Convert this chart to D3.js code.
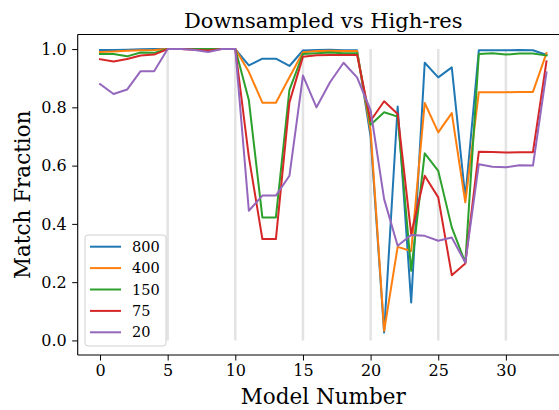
<!DOCTYPE html>
<html>
<head>
<meta charset="utf-8">
<script src="https://cdn.jsdelivr.net/npm/d3@7"></script>
<style>
  body { margin: 0; background: #fff; }
  text { font-family: "DejaVu Serif", serif; fill: #000; }
</style>
</head>
<body>
<div id="chart"></div>
<script>
// data
var models = d3.range(0, 34);
var seriesNames = ["800", "400", "150", "75", "20"];
var colors = ["#1f77b4", "#ff7f0e", "#2ca02c", "#d62728", "#9467bd"];
var dividers = [5, 10, 15, 20, 25, 30];
var xTicks = [0, 5, 10, 15, 20, 25, 30];
var yTicks = [0.0, 0.2, 0.4, 0.6, 0.8, 1.0];

var res800 = [0.997, 0.997, 0.998, 0.999, 1.0, 1.0, 1.0, 1.0, 1.0, 1.0, 1.0,
  0.944, 0.967, 0.967, 0.942, 0.995, 0.997, 0.998, 0.996, 0.996,
  0.70, 0.027, 0.803, 0.13, 0.953, 0.903, 0.937, 0.49,
  0.996, 0.996, 0.996, 0.997, 0.996, 0.98];
var res400 = [0.99, 0.992, 0.994, 0.996, 0.997, 1.0, 1.0, 1.0, 1.0, 1.0, 1.0,
  0.922, 0.816, 0.816, 0.903, 0.989, 0.993, 0.994, 0.993, 0.993,
  0.72, 0.033, 0.321, 0.307, 0.815, 0.714, 0.78, 0.474,
  0.852, 0.852, 0.852, 0.853, 0.853, 0.986];
var res150 = [0.983, 0.983, 0.975, 0.988, 0.987, 1.0, 1.0, 1.0, 1.0, 1.0, 1.0,
  0.825, 0.422, 0.422, 0.86, 0.983, 0.986, 0.988, 0.986, 0.986,
  0.74, 0.783, 0.768, 0.239, 0.642, 0.582, 0.388, 0.267,
  0.983, 0.986, 0.981, 0.985, 0.985, 0.978];
var res75 = [0.965, 0.957, 0.966, 0.978, 0.981, 1.0, 1.0, 0.998, 0.995, 1.0, 1.0,
  0.63, 0.348, 0.348, 0.817, 0.974, 0.979, 0.98, 0.98, 0.98,
  0.754, 0.821, 0.777, 0.365, 0.565, 0.491, 0.224, 0.264,
  0.648, 0.647, 0.645, 0.646, 0.646, 0.958];
var res20 = [0.88, 0.846, 0.861, 0.924, 0.924, 1.0, 1.0, 0.997, 0.99, 1.0, 1.0,
  0.445, 0.497, 0.497, 0.565, 0.909, 0.80, 0.886, 0.953, 0.903,
  0.79, 0.485, 0.325, 0.362, 0.359, 0.342, 0.353, 0.267,
  0.605, 0.596, 0.594, 0.601, 0.60, 0.92];

var allSeries = [res800, res400, res150, res75, res20];

var svgWidth = 559;
var svgHeight = 410;

// plot area (right edge falls outside the picture, as in the reference)
var plotLeft = 77.7, plotRight = 568.8, plotTop = 34.5, plotBottom = 355;

var svg = d3.select("#chart")
  .append("svg")
  .attr("width", svgWidth)
  .attr("height", svgHeight);

var xScale = d3.scaleLinear()
  .domain([-1.65, 34.65])
  .range([plotLeft, plotRight]);

var yScale = d3.scaleLinear()
  .domain([-0.05, 1.05])
  .range([plotBottom, plotTop]);

// light vertical separators
svg.selectAll(".divider")
  .data(dividers)
  .enter()
  .append("line")
  .attr("x1", d => xScale(d))
  .attr("x2", d => xScale(d))
  .attr("y1", yScale(0))
  .attr("y2", yScale(1))
  .attr("stroke", "#e3e3e3")
  .attr("stroke-width", 2.5);

// series lines
var line = d3.line()
  .x((d, i) => xScale(models[i]))
  .y(d => yScale(d));

svg.selectAll(".series")
  .data(allSeries)
  .enter()
  .append("path")
  .attr("d", d => line(d))
  .attr("fill", "none")
  .attr("stroke", (d, i) => colors[i])
  .attr("stroke-width", 2)
  .attr("stroke-linejoin", "round")
  .attr("stroke-linecap", "square");

// axes
var bottomAxis = d3.axisBottom(xScale)
  .tickValues(xTicks)
  .tickSize(5.5)
  .tickPadding(4)
  .tickFormat(d3.format("d"));

var leftAxis = d3.axisLeft(yScale)
  .tickValues(yTicks)
  .tickSize(5.5)
  .tickPadding(5.5)
  .tickFormat(d3.format(".1f"));

var xAxis = svg.append("g")
  .attr("transform", `translate(0, ${plotBottom})`)
  .call(bottomAxis);

var yAxis = svg.append("g")
  .attr("transform", `translate(${plotLeft}, 0)`)
  .call(leftAxis);

[xAxis, yAxis].forEach(function(ax) {
  ax.select(".domain").remove();
  ax.selectAll("text")
    .style("font-family", "DejaVu Serif, serif")
    .style("font-size", "16px")
    .attr("fill", "#000");
  ax.selectAll(".tick line").attr("stroke", "#000").attr("stroke-width", 1);
});

// spines: left, bottom, top (right one is cut off)
svg.append("line")
  .attr("x1", plotLeft).attr("x2", plotLeft)
  .attr("y1", plotTop).attr("y2", plotBottom)
  .attr("stroke", "#000").attr("stroke-width", 1.1);
svg.append("line")
  .attr("x1", plotLeft).attr("x2", svgWidth)
  .attr("y1", plotBottom).attr("y2", plotBottom)
  .attr("stroke", "#000").attr("stroke-width", 1.1);
svg.append("line")
  .attr("x1", plotLeft).attr("x2", svgWidth)
  .attr("y1", plotTop).attr("y2", plotTop)
  .attr("stroke", "#000").attr("stroke-width", 1.1);

// title and axis labels
svg.append("text")
  .attr("x", (plotLeft + plotRight) / 2)
  .attr("y", 28)
  .attr("text-anchor", "middle")
  .style("font-size", "21px")
  .text("Downsampled vs High-res");

svg.append("text")
  .attr("x", (plotLeft + plotRight) / 2)
  .attr("y", 404)
  .attr("text-anchor", "middle")
  .style("font-size", "21.5px")
  .text("Model Number");

svg.append("text")
  .attr("transform", `translate(30, ${(plotTop + plotBottom) / 2}) rotate(-90)`)
  .attr("text-anchor", "middle")
  .style("font-size", "21.5px")
  .text("Match Fraction");

// legend
var legend = svg.append("g")
  .attr("transform", "translate(85, 235)");

legend.append("rect")
  .attr("width", 81)
  .attr("height", 111)
  .attr("rx", 3)
  .attr("fill", "#fff")
  .attr("fill-opacity", 0.8)
  .attr("stroke", "#d0d0d0")
  .attr("stroke-width", 1);

var items = legend.selectAll(".item")
  .data(seriesNames)
  .enter()
  .append("g")
  .attr("transform", (d, i) => `translate(0, ${11.7 + i * 21.4})`);

items.append("line")
  .attr("x1", 5)
  .attr("x2", 36)
  .attr("stroke", (d, i) => colors[i])
  .attr("stroke-width", 2);

items.append("text")
  .attr("x", 47)
  .attr("dy", "0.35em")
  .style("font-size", "14.5px")
  .text(d => d);
</script>
</body>
</html>
